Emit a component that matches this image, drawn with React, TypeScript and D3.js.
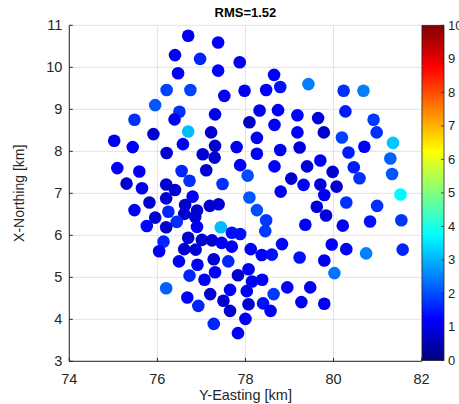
import React from "react";
import * as d3 from "d3";

const easting: number[] = [
  76.70, 77.38, 76.40, 76.97, 77.87, 76.47, 77.38, 78.65, 76.21, 76.75,
  77.98, 78.47, 78.79, 79.43, 77.52, 80.23, 80.68, 75.95, 76.50, 76.39,
  75.48, 77.31, 78.32, 78.74, 79.18, 79.65, 80.27, 80.91, 78.09, 78.66,
  76.70, 75.91, 77.22, 78.26, 79.18, 79.78, 80.98, 80.19, 75.02, 75.44,
  76.58, 77.31, 77.80, 78.79, 79.23, 80.70, 81.35, 80.34, 81.29, 76.21,
  77.03, 77.30, 78.26, 77.88, 78.66, 79.40, 79.70, 80.46, 75.09, 75.59,
  76.55, 77.11, 78.05, 79.04, 79.98, 80.59, 81.33, 75.30, 75.65, 76.20,
  76.40, 76.73, 77.48, 79.32, 79.70, 80.07, 78.80, 81.52, 76.80, 76.20,
  78.09, 79.79, 75.82, 75.48, 75.95, 76.25, 76.63, 76.90, 76.61, 76.86,
  77.19, 77.39, 76.44, 75.76, 76.20, 76.90, 77.44, 77.69, 77.88, 78.26,
  78.47, 78.45, 79.62, 79.83, 79.36, 80.29, 80.99, 80.21, 80.83, 81.54,
  76.14, 76.70, 77.01, 77.24, 77.46, 77.69, 76.04, 76.61, 76.87, 78.12,
  78.83, 79.96, 80.29, 80.74, 81.57, 78.37, 78.60, 79.23, 79.79, 76.49,
  76.91, 77.28, 77.61, 78.07, 77.31, 77.83, 76.73, 80.02, 77.07, 78.15,
  78.38, 76.20, 77.65, 78.03, 77.20, 76.68, 78.64, 78.95, 79.47, 76.93,
  77.50, 78.07, 78.40, 78.57, 79.27, 79.79, 77.65, 78.00, 77.28, 77.83,
];

const northing: number[] = [
  10.75, 10.59, 10.29, 10.20, 10.12, 9.86, 9.92, 9.82, 9.46, 9.46,
  9.44, 9.46, 9.53, 9.60, 9.32, 9.44, 9.44, 9.10, 8.94, 8.76,
  8.75, 8.88, 8.97, 8.98, 8.86, 8.79, 8.95, 8.75, 8.69, 8.63,
  8.47, 8.41, 8.45, 8.32, 8.45, 8.45, 8.45, 8.33, 8.25, 8.10,
  8.17, 8.13, 8.10, 8.03, 8.09, 8.11, 8.20, 7.97, 7.83, 7.96,
  7.93, 7.85, 7.94, 7.67, 7.64, 7.64, 7.78, 7.62, 7.60, 7.52,
  7.53, 7.55, 7.42, 7.35, 7.51, 7.36, 7.46, 7.23, 7.12, 7.21,
  7.08, 7.30, 7.22, 7.20, 7.21, 7.16, 7.04, 6.97, 6.92, 6.88,
  6.90, 6.96, 6.78, 6.60, 6.42, 6.56, 6.72, 6.59, 6.51, 6.44,
  6.70, 6.74, 6.32, 6.22, 6.19, 6.20, 6.19, 6.06, 6.03, 6.60,
  6.36, 6.10, 6.68, 6.47, 6.25, 6.78, 6.70, 6.23, 6.33, 6.36,
  5.85, 5.94, 5.89, 5.88, 5.82, 5.73, 5.62, 5.67, 5.66, 5.67,
  5.79, 5.78, 5.67, 5.57, 5.66, 5.53, 5.54, 5.47, 5.40, 5.38,
  5.30, 5.43, 5.38, 5.19, 5.12, 5.05, 5.04, 5.10, 4.94, 4.90,
  4.94, 4.74, 4.70, 4.67, 4.60, 4.52, 4.60, 4.76, 4.76, 4.32,
  4.44, 4.36, 4.38, 4.20, 4.41, 4.37, 4.20, 4.01, 3.89, 3.67,
];

const residual: number[] = [
  1.2, 1.2, 1.2, 1.6, 1.2, 1.2, 1.2, 1.2, 1.9, 1.9,
  1.2, 1.2, 1.4, 2.5, 1.2, 1.7, 2.5, 2.1, 1.7, 1.1,
  1.7, 1.1, 1.1, 1.2, 1.3, 0.9, 1.5, 1.8, 0.7, 1.2,
  3.1, 0.8, 0.8, 1.1, 1.2, 0.8, 1.7, 1.9, 1.1, 1.2,
  1.2, 0.8, 1.1, 1.1, 0.9, 1.2, 3.2, 1.5, 2.2, 0.8,
  0.8, 0.8, 1.2, 1.2, 1.2, 0.9, 1.2, 1.5, 1.2, 1.2,
  1.6, 0.8, 2.0, 0.8, 0.8, 1.7, 2.1, 0.8, 1.2, 0.8,
  0.8, 1.7, 1.7, 1.2, 0.9, 0.8, 1.2, 3.7, 1.2, 0.8,
  2.1, 1.2, 0.8, 1.2, 0.8, 1.6, 0.8, 0.8, 0.8, 0.8,
  0.8, 0.8, 1.7, 1.3, 0.8, 1.2, 3.1, 1.4, 1.4, 2.0,
  1.8, 1.8, 0.9, 0.9, 1.2, 1.7, 1.7, 1.2, 1.4, 1.8,
  1.6, 0.8, 0.8, 0.8, 1.2, 1.2, 1.2, 0.8, 0.8, 1.2,
  1.3, 1.2, 1.2, 2.5, 1.6, 1.2, 1.4, 1.4, 1.1, 1.2,
  1.2, 0.8, 1.6, 1.2, 1.2, 0.8, 1.6, 2.4, 1.2, 1.2,
  1.2, 2.2, 1.2, 1.2, 0.8, 1.2, 1.8, 1.2, 1.2, 1.6,
  0.8, 0.8, 1.4, 1.2, 1.2, 1.2, 0.8, 1.2, 1.6, 1.2,
];

const xTicks: number[] = [74, 76, 78, 80, 82];
const yTicks: number[] = [3, 4, 5, 6, 7, 8, 9, 10, 11];
const cbTicks: number[] = [0, 1, 2, 3, 4, 5, 6, 7, 8, 9, 10];

const titleText = "RMS=1.52";
const xLabel = "Y-Easting [km]";
const yLabel = "X-Northing [km]";

function jet(t: number): string {
  const c = (v: number) => Math.max(0, Math.min(1, v));
  const r = c(1.5 - Math.abs(4 * t - 3));
  const g = c(1.5 - Math.abs(4 * t - 2));
  const b = c(1.5 - Math.abs(4 * t - 1));
  return d3.rgb(r * 255, g * 255, b * 255).formatHex();
}

export default function App() {
  const W = 459;
  const H = 404;
  const left = 69.3, right = 421.6, top = 25.3, bottom = 361.3;
  const x = d3.scaleLinear().domain([74, 82]).range([left, right]);
  const y = d3.scaleLinear().domain([3, 11]).range([bottom, top]);
  const cb = d3.scaleLinear().domain([0, 10]).range([360.5, 25.3]);
  const cbLeft = 422, cbRight = 444;
  const font = "'Liberation Sans', Arial, sans-serif";
  const axisColor = "#262626";
  const stops = d3.range(0, 65).map((i) => i / 64);

  return (
    <svg
      width={W}
      height={H}
      style={{ position: "absolute", left: 0, top: 0, background: "#fff" }}
      fontFamily={font}
    >
      <defs>
        <linearGradient id="jetGrad" x1="0" y1="1" x2="0" y2="0">
          {stops.map((s, i) => (
            <stop key={i} offset={s} stopColor={jet(s)} />
          ))}
        </linearGradient>
      </defs>
      <rect x={0} y={0} width={W} height={H} fill="#fff" />
      {xTicks.map((t) => (
        <line key={"gx" + t} x1={x(t)} x2={x(t)} y1={top} y2={bottom} stroke="#e3e3e3" strokeWidth={1} />
      ))}
      {yTicks.map((t) => (
        <line key={"gy" + t} x1={left} x2={right} y1={y(t)} y2={y(t)} stroke="#e3e3e3" strokeWidth={1} />
      ))}
      <line x1={left} x2={left} y1={top} y2={bottom} stroke={axisColor} strokeWidth={1} />
      <line x1={left} x2={right} y1={bottom} y2={bottom} stroke={axisColor} strokeWidth={1} />
      {xTicks.map((t) => (
        <g key={"xt" + t}>
          <line x1={x(t)} x2={x(t)} y1={bottom} y2={bottom - 3.5} stroke={axisColor} />
          <text x={x(t)} y={383.5} textAnchor="middle" fontSize={14.5} fill={axisColor}>
            {t}
          </text>
        </g>
      ))}
      {yTicks.map((t) => (
        <g key={"yt" + t}>
          <line x1={left} x2={left + 3.5} y1={y(t)} y2={y(t)} stroke={axisColor} />
          <text x={left - 7} y={y(t) + 5} textAnchor="end" fontSize={14.5} fill={axisColor}>
            {t}
          </text>
        </g>
      ))}
      {easting.map((e, i) => (
        <circle key={i} cx={x(e)} cy={y(northing[i])} r={6.3} fill={jet(residual[i] / 10)} />
      ))}
      <rect x={cbLeft} y={cb(10)} width={cbRight - cbLeft} height={cb(0) - cb(10)} fill="url(#jetGrad)" stroke={axisColor} strokeWidth={0.8} />
      {cbTicks.map((t) => (
        <g key={"cb" + t}>
          <line x1={cbRight} x2={cbRight - 3} y1={cb(t)} y2={cb(t)} stroke={axisColor} strokeWidth={0.8} />
          <text x={448} y={cb(t) + 4.5} fontSize={13} fill={axisColor}>
            {t}
          </text>
        </g>
      ))}
      <text x={(left + right) / 2} y={17} textAnchor="middle" fontSize={13} fontWeight="bold" fill="#000">
        {titleText}
      </text>
      <text x={(left + right) / 2} y={399.5} textAnchor="middle" fontSize={14.5} fill={axisColor}>
        {xLabel}
      </text>
      <text
        transform={`translate(24, ${(top + bottom) / 2}) rotate(-90)`}
        textAnchor="middle"
        fontSize={14}
        fill={axisColor}
      >
        {yLabel}
      </text>
    </svg>
  );
}
